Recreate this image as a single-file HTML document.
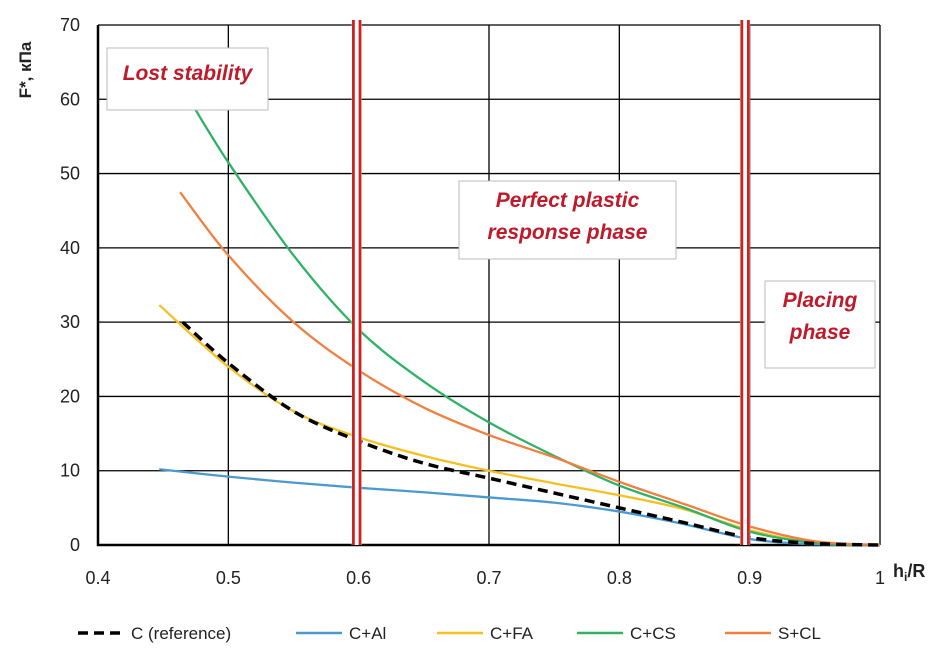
<!DOCTYPE html>
<html><head><meta charset="utf-8"><style>
body{margin:0;background:#fff;font-family:"Liberation Sans",sans-serif}
svg text{font-family:"Liberation Sans",sans-serif}
</style></head><body>
<svg id="c" width="945" height="659"></svg>
<script>
const xTicks=[0.4,0.5,0.6,0.7,0.8,0.9,1];
const xTickLabels=["0.4","0.5","0.6","0.7","0.8","0.9","1"];
const yTicks=[0,10,20,30,40,50,60,70];
const cRefX=[0.465,0.5,0.55,0.6,0.65,0.7,0.75,0.8,0.85,0.9,0.95,1];
const cRefY=[30,24.5,18,14,11,9,7,5,3,1,0.2,0];
const alX=[0.447,0.5,0.55,0.6,0.65,0.7,0.75,0.8,0.85,0.9,0.95,1];
const alY=[10.2,9.2,8.4,7.7,7.1,6.4,5.7,4.5,2.8,0.8,0.1,0];
const faX=[0.447,0.5,0.55,0.6,0.65,0.7,0.75,0.8,0.85,0.9,0.95,1];
const faY=[32.3,24,18,14.5,12,10,8.3,6.7,4.8,2,0.3,0];
const csX=[0.47,0.5,0.55,0.6,0.65,0.7,0.75,0.8,0.85,0.9,0.95,1];
const csY=[60,51.5,39,29,22,16.5,12,8,5,1.8,0.3,0];
const clX=[0.463,0.5,0.55,0.6,0.65,0.7,0.75,0.8,0.85,0.9,0.95,1];
const clY=[47.5,39,30,23.5,18.5,14.8,11.8,8.5,5.5,2.5,0.5,0];
const phaseLines=[0.5985,0.8965];
const L=98,R=880,T=25,B=545;
const sx=v=>L+(v-0.4)/0.6*(R-L);
const sy=v=>B-v/70*(B-T);
const svg=document.getElementById('c');
const NS='http://www.w3.org/2000/svg';
function mk(t,a,txt){const e=document.createElementNS(NS,t);for(const k in a)e.setAttribute(k,a[k]);if(txt!==undefined)e.textContent=txt;svg.appendChild(e);return e;}
xTicks.forEach((v,i)=>{
 const g=mk('line',{x1:sx(v),x2:sx(v),y1:T,y2:B,stroke:'#000','stroke-width':1.3});
 
 
 const t=mk('text',{x:sx(v),y:584,'text-anchor':'middle','font-size':18,fill:'#222'},xTickLabels[i]);
 
 
});
yTicks.forEach(v=>{
 const g=mk('line',{x1:L,x2:R,y1:sy(v),y2:sy(v),stroke:'#000','stroke-width':1.3});
 
 
 const t=mk('text',{x:80,y:sy(v)+6,'text-anchor':'end','font-size':18,fill:'#222'},String(v));
 
 
});
const ax=mk('path',{d:`M${L},${T}V${B}H${R}`,stroke:'#000','stroke-width':2.5,fill:'none'});


function smooth(xs,ys){const p=xs.map((x,i)=>[sx(x),sy(ys[i])]);let d=`M${p[0][0]},${p[0][1]}`;
 for(let i=0;i<p.length-1;i++){const p0=p[i-1]||p[i],p1=p[i],p2=p[i+1],p3=p[i+2]||p2;
 d+=`C${p1[0]+(p2[0]-p0[0])/6},${p1[1]+(p2[1]-p0[1])/6} ${p2[0]-(p3[0]-p1[0])/6},${p2[1]-(p3[1]-p1[1])/6} ${p2[0]},${p2[1]}`;}return d;}
const series=[[alX,alY,'#4a9ad0','','series-c-al'],[faX,faY,'#f5c023','','series-c-fa'],[csX,csY,'#2eb266','','series-c-cs'],[clX,clY,'#f08040','','series-s-cl'],[cRefX,cRefY,'#000','10,6','series-c-reference']];
series.forEach(s=>{const a={d:smooth(s[0],s[1]),stroke:s[2],'stroke-width':s[3]?3.5:2.3,fill:'none'};if(s[3])a['stroke-dasharray']=s[3];
 const e=mk('path',a);});
phaseLines.forEach(v=>{mk('rect',{x:sx(v)-5,y:20,width:10,height:B-20,fill:'#fff'});
 [-3.3,3.3].forEach(o=>{const e=mk('line',{x1:sx(v)+o,x2:sx(v)+o,y1:20,y2:B,stroke:'#d02020','stroke-width':2.8});
 });});
function box(x,y,w,h,lines,name){const r=mk('rect',{x,y,width:w,height:h,fill:'#fff',stroke:'#bbb','stroke-width':1});
 
 lines.forEach((l,i)=>{const t=mk('text',{x:x+w/2,y:y+32+i*32-(lines.length>1?6:0),'text-anchor':'middle','font-size':21,'font-weight':'bold','font-style':'italic',fill:'#c01a2a'},l);
 });}
box(107,48,161,62,['Lost stability'],'lost-stability-label');
box(459,181,217,78,['Perfect plastic','response phase'],'perfect-plastic-label');
box(765,281,110,87,['Placing','phase'],'placing-phase-label');
const yt=mk('text',{x:0,y:0,transform:'translate(31,70) rotate(-90)','text-anchor':'middle','font-size':17,'font-weight':'bold',fill:'#222'},'F*, кПа');

const xt=mk('text',{x:893,y:577,'font-size':18,'font-weight':'bold',fill:'#222'});
xt.innerHTML='h<tspan font-size="12" dy="4">i</tspan><tspan dy="-4">/R</tspan>';

const leg=[[78,'C (reference)','#000',true],[296,'C+Al','#4a9ad0'],[437,'C+FA','#f5c023'],[577,'C+CS','#2eb266'],[725,'S+CL','#f08040']];
leg.forEach(l=>{const a={x1:l[0],x2:l[0]+46,y1:633,y2:633,stroke:l[2],'stroke-width':l[3]?3.5:2.5};if(l[3])a['stroke-dasharray']='10,6';
 const e=mk('line',a);
 const t=mk('text',{x:l[0]+53,y:639,'font-size':17,fill:'#222'},l[1]);});
</script>
</body></html>
